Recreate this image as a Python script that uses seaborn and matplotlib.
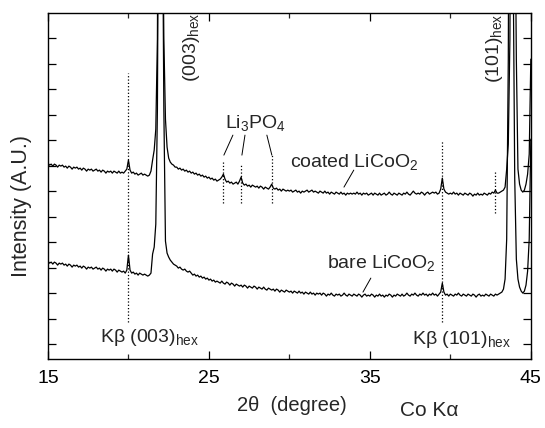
import matplotlib
matplotlib.use("Agg")
import matplotlib.pyplot as plt
import numpy as np
import pandas as pd
import seaborn as sns

# 2-theta grid (Co K-alpha), 0.1 degree step
THETA = np.round(np.linspace(15, 45, 301), 1)

# intensities (a.u., peaks run off the top)
COATED = [
    196, 194, 195, 193, 195, 194, 192, 194, 193, 194,
    192, 193, 191, 193, 192, 190, 192, 191, 192, 190,
    191, 189, 191, 190, 188, 190, 189, 190, 188, 189,
    190, 188, 189, 187, 189, 188, 186, 188, 187, 188,
    186, 188, 187, 186, 188, 186, 187, 186, 188, 190,
    199, 189, 186, 187, 185, 186, 184, 185, 186, 184,
    185, 184, 183, 184, 188, 199, 209, 230, 320, 700,
    900, 500, 320, 240, 212, 201, 197, 195, 194, 192,
    192, 190, 191, 189, 190, 188, 189, 187, 188, 186,
    187, 185, 186, 184, 185, 183, 184, 182, 183, 181,
    182, 180, 181, 179, 180, 178, 179, 180, 182, 185,
    180, 177, 178, 176, 177, 175, 176, 177, 175, 178,
    182, 176, 174, 175, 173, 174, 172, 174, 173, 172,
    173, 171, 173, 172, 170, 172, 171, 170, 172, 175,
    171, 170, 171, 169, 170, 168, 170, 169, 168, 169,
    168, 169, 167, 168, 169, 167, 168, 166, 168, 167,
    168, 169, 167, 168, 169, 167, 168, 167, 166, 168,
    167, 166, 168, 166, 167, 165, 167, 166, 165, 167,
    166, 165, 167, 165, 166, 164, 166, 165, 166, 165,
    166, 165, 167, 165, 166, 164, 166, 165, 166, 164,
    165, 166, 164, 166, 165, 164, 166, 164, 165, 166,
    164, 165, 167, 165, 164, 166, 165, 164, 166, 165,
    164, 166, 165, 167, 165, 164, 166, 168, 166, 165,
    166, 165, 167, 166, 164, 166, 167, 165, 166, 167,
    166, 167, 165, 166, 170, 181, 170, 167, 166, 165,
    166, 165, 167, 165, 166, 164, 166, 165, 164, 166,
    165, 164, 166, 165, 163, 165, 164, 166, 164, 165,
    164, 166, 165, 164, 166, 165, 167, 166, 169, 166,
    166, 167, 168, 169, 172, 190, 215, 320, 700, 900,
    500, 300, 190, 175, 169, 167, 169, 175, 185, 205,
    300,
]
BARE = [
    98, 96, 97, 95, 97, 96, 94, 96, 95, 96,
    94, 95, 93, 95, 94, 92, 94, 93, 94, 92,
    93, 91, 93, 92, 90, 92, 91, 92, 90, 91,
    92, 90, 91, 89, 91, 90, 88, 90, 89, 90,
    88, 90, 89, 87, 89, 88, 87, 88, 86, 89,
    104, 89, 86, 87, 85, 86, 84, 86, 85, 84,
    85, 84, 83, 84, 86, 105, 112, 135, 250, 600,
    900, 500, 250, 118, 106, 102, 99, 97, 95, 94,
    93, 91, 92, 90, 89, 90, 88, 87, 88, 86,
    84, 85, 83, 84, 82, 83, 81, 82, 80, 81,
    79, 80, 78, 79, 77, 78, 77, 76, 78, 76,
    75, 77, 76, 74, 76, 75, 73, 75, 74, 73,
    74, 72, 74, 73, 71, 73, 72, 71, 73, 72,
    70, 72, 71, 70, 72, 70, 69, 71, 70, 69,
    70, 68, 70, 69, 67, 69, 68, 67, 69, 68,
    67, 68, 66, 68, 67, 66, 68, 66, 67, 65,
    67, 66, 65, 67, 65, 66, 64, 66, 65, 66,
    64, 66, 65, 63, 65, 64, 66, 64, 63, 65,
    64, 65, 63, 64, 66, 64, 63, 65, 64, 63,
    65, 64, 63, 65, 64, 62, 64, 65, 63, 64,
    63, 65, 64, 62, 64, 63, 65, 63, 64, 62,
    64, 63, 65, 64, 62, 64, 63, 65, 64, 63,
    65, 63, 64, 66, 64, 63, 65, 64, 66, 64,
    63, 65, 64, 66, 64, 65, 63, 65, 64, 66,
    64, 65, 63, 65, 67, 76, 67, 64, 65, 63,
    65, 64, 63, 65, 64, 66, 64, 63, 65, 64,
    63, 65, 64, 63, 65, 64, 62, 64, 65, 63,
    64, 63, 65, 64, 63, 65, 64, 63, 65, 64,
    65, 66, 67, 70, 80, 120, 300, 800, 900, 400,
    180, 100, 80, 72, 68, 66, 68, 74, 88, 120,
    220,
]

# dotted markers: position, top, bottom
MARK_POS = [20.0, 25.9, 27.0, 28.9, 39.5, 42.8]
MARK_TOP = [286, 197, 194, 204, 219, 189]
MARK_BOT = [37, 156, 156, 156, 37, 146]

XTICKS = [15, 25, 35, 45]

sns.set_theme(style="ticks")
plt.rcParams["font.family"] = ["Liberation Sans", "DejaVu Sans"]
plt.rcParams["mathtext.fontset"] = "custom"
plt.rcParams["mathtext.rm"] = "Liberation Sans"
plt.rcParams["mathtext.it"] = "Liberation Sans:italic"

df = pd.concat([
    pd.DataFrame({"theta": THETA, "intensity": COATED, "sample": "coated"}),
    pd.DataFrame({"theta": THETA, "intensity": BARE, "sample": "bare"}),
])

fig = plt.figure(figsize=(5.45, 4.28), dpi=100)
ax = fig.add_axes([0.088, 0.161, 0.886, 0.809])

sns.lineplot(data=df, x="theta", y="intensity", hue="sample", units="sample",
             estimator=None, palette=["black", "black"], linewidth=0.9,
             legend=False, ax=ax)

ax.vlines(MARK_POS, MARK_BOT, MARK_TOP, colors="black", linestyles=":", linewidth=0.9)

# leader lines
lw = 0.7
ax.plot([26.49, 25.93], [224, 204], color="black", lw=lw)
ax.plot([27.24, 27.05], [224, 204], color="black", lw=lw)
ax.plot([28.60, 28.91], [224, 204], color="black", lw=lw)
ax.plot([34.0, 33.39], [189, 172], color="black", lw=lw)
ax.plot([35.06, 34.57], [81, 67], color="black", lw=lw)

ax.set_xlim(15, 45)
ax.set_ylim(0, 346.3)
ax.set_xticks(XTICKS)
ax.set_xticks([20, 30, 40], minor=True)
ax.set_yticks(np.arange(15, 330, 25.5))
ax.set_yticklabels([])
ax.tick_params(which="major", direction="in", length=6, width=0.9, top=True, right=True,
               labelsize=14, colors="black", pad=8)
ax.tick_params(which="minor", direction="in", length=3.5, width=0.9, top=True, right=True)
for sp in ax.spines.values():
    sp.set_linewidth(1.0)
    sp.set_color("black")

ax.set_xlabel("")
ax.set_ylabel("")
fig.text(22 / 545, 1 - 206 / 428, "Intensity (A.U.)", fontsize=15.5, rotation=90,
         ha="center", va="center")
fig.text(0.535, 0.052, "2θ  (degree)", fontsize=14.5, ha="center", va="center")
fig.text(0.787, 0.04, "Co Kα", fontsize=15, ha="center", va="center")

fs = 14
ax.text(25.99, 231, "Li$_3$PO$_4$", fontsize=fs, ha="left", va="baseline")
ax.text(30.03, 192, "coated LiCoO$_2$", fontsize=fs, ha="left", va="baseline")
ax.text(32.33, 91, "bare LiCoO$_2$", fontsize=fs, ha="left", va="baseline")
ax.text(18.23, 17, "Kβ (003)$_{\\rm hex}$", fontsize=fs, ha="left", va="baseline")
ax.text(37.6, 15, "Kβ (101)$_{\\rm hex}$", fontsize=fs, ha="left", va="baseline")
ax.text(23.25, 277, "(003)$_{\\rm hex}$", fontsize=14, rotation=90, ha="left", va="bottom")
ax.text(42.07, 276, "(101)$_{\\rm hex}$", fontsize=14, rotation=90, ha="left", va="bottom")

fig.savefig("out.png", dpi=100)
